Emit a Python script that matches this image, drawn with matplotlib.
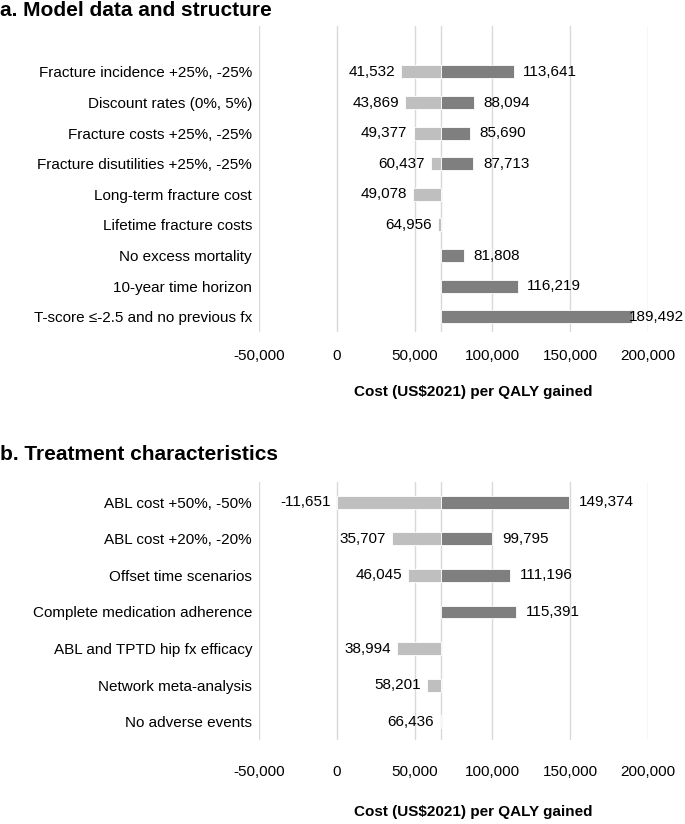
import matplotlib
matplotlib.use("Agg")
import matplotlib.pyplot as plt
from matplotlib.ticker import FuncFormatter

plt.rcParams['font.family'] = ['Liberation Sans', 'DejaVu Sans']

base_icer = 67000

a_labels = ["Fracture incidence +25%, -25%", "Discount rates (0%, 5%)",
            "Fracture costs +25%, -25%", "Fracture disutilities +25%, -25%",
            "Long-term fracture cost", "Lifetime fracture costs",
            "No excess mortality", "10-year time horizon",
            "T-score ≤-2.5 and no previous fx"]
a_low = [41532, 43869, 49377, 60437, 49078, 64956, None, None, None]
a_high = [113641, 88094, 85690, 87713, None, None, 81808, 116219, 189492]

b_labels = ["ABL cost +50%, -50%", "ABL cost +20%, -20%", "Offset time scenarios",
            "Complete medication adherence", "ABL and TPTD hip fx efficacy",
            "Network meta-analysis", "No adverse events"]
b_low = [-11651, 35707, 46045, None, 38994, 58201, 66436]
b_high = [149374, 99795, 111196, 115391, None, None, None]

x_ticks = [-50000, 0, 50000, 100000, 150000, 200000]

LIGHT = "#BFBFBF"
DARK = "#7F7F7F"
GRID = "#D9D9D9"
FS = 11

W, H = 685, 824
fig = plt.figure(figsize=(W / 100, H / 100), dpi=100)


def panel(rect, labels, low, high, ylim, bar_h, pad):
    ax = fig.add_axes(rect)
    n = len(labels)
    ys = [n - 1 - i for i in range(n)]
    for y, lo, hi in zip(ys, low, high):
        if lo is not None:
            start = max(lo, 0)  # stacked-bar rendering stops at the zero line
            ax.barh(y, start - base_icer, left=base_icer, height=bar_h, color=LIGHT,
                    edgecolor="white", linewidth=0.6, zorder=3)
            ax.annotate(f"{lo:,}", (start, y), xytext=(-4.5, 0), textcoords="offset points",
                        ha="right", va="center", fontsize=FS)
        if hi is not None:
            ax.barh(y, hi - base_icer, left=base_icer, height=bar_h, color=DARK,
                    edgecolor="white", linewidth=0.6, zorder=3)
            if hi < 180000:
                ax.annotate(f"{hi:,}", (hi, y), xytext=(7, 0),
                            textcoords="offset points", ha="left", va="center", fontsize=FS)
            else:
                # label squeezed against the right edge of the figure
                ax.annotate(f"{hi:,}", xy=(684 / W, y), xycoords=("figure fraction", "data"),
                            ha="right", va="center", fontsize=FS, annotation_clip=False)
    ax.set_xlim(x_ticks[0], x_ticks[-1])
    ax.set_ylim(*ylim)
    ax.set_xticks(x_ticks)
    ax.xaxis.set_major_formatter(FuncFormatter(lambda v, p: f"{int(v):,}"))
    ax.set_yticks(ys)
    ax.set_yticklabels(labels, fontsize=FS)
    ax.tick_params(axis="y", length=0, pad=5)
    ax.tick_params(axis="x", length=0, pad=pad, labelsize=FS)
    for s in ax.spines.values():
        s.set_visible(False)
    ax.grid(axis="x", color=GRID, linewidth=1.0, zorder=0)
    ax.axvline(base_icer, color=GRID, linewidth=1.0, zorder=1)
    ax.set_axisbelow(True)
    return ax


left = 259 / W
width = (648 - 259) / W

top_a, bot_a = 26, 332
panel([left, 1 - bot_a / H, width, (bot_a - top_a) / H], a_labels, a_low, a_high,
      (-0.5, 9.5), 0.42, 12)

top_b, bot_b = 482, 740
panel([left, 1 - bot_b / H, width, (bot_b - top_b) / H], b_labels, b_low, b_high,
      (-0.5, 6.55), 0.35, 18)

fig.text(0 / W, 1 - 11 / H, "a. Model data and structure", fontsize=15, fontweight="bold",
         ha="left", va="center")
fig.text(0 / W, 1 - 455 / H, "b. Treatment characteristics", fontsize=15, fontweight="bold",
         ha="left", va="center")
fig.text(473 / W, 1 - 392 / H, "Cost (US$2021) per QALY gained", fontsize=11, fontweight="bold",
         ha="center", va="center")
fig.text(473 / W, 1 - 812 / H, "Cost (US$2021) per QALY gained", fontsize=11, fontweight="bold",
         ha="center", va="center")

fig.savefig("out.png", dpi=100, facecolor="white")
